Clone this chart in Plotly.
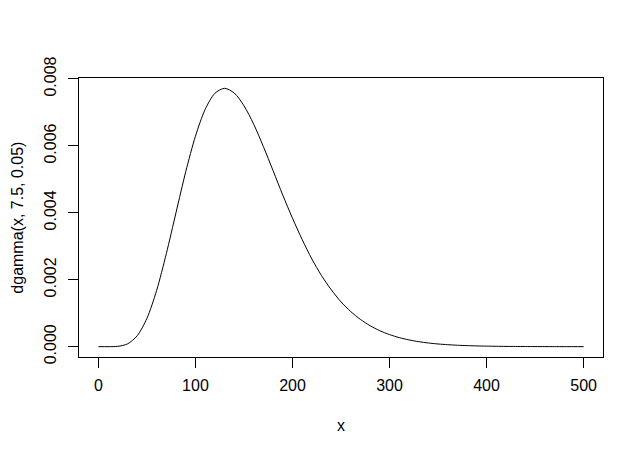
import plotly.graph_objects as go

# values
x_vals = [0, 10, 20, 30, 40, 50, 60, 70, 80, 90, 100, 110, 120, 130, 140, 150,
          160, 170, 180, 190, 200, 210, 220, 230, 240, 250, 260, 270, 280, 290,
          300, 310, 320, 330, 340, 350, 360, 370, 380, 390, 400, 410, 420, 430,
          440, 450, 460, 470, 480, 490, 500]
density = [0.0, 1.8e-7, 9.8e-6, 8.3e-5, 3.27e-4, 8.47e-4, 1.68e-3, 2.78e-3,
           4.01e-3, 5.23e-3, 6.29e-3, 7.09e-3, 7.57e-3, 7.72e-3, 7.58e-3,
           7.20e-3, 6.65e-3, 5.98e-3, 5.26e-3, 4.53e-3, 3.84e-3, 3.20e-3,
           2.62e-3, 2.12e-3, 1.70e-3, 1.34e-3, 1.05e-3, 8.15e-4, 6.26e-4,
           4.77e-4, 3.61e-4, 2.71e-4, 2.02e-4, 1.50e-4, 1.10e-4, 8.06e-5,
           5.87e-5, 4.26e-5, 3.07e-5, 2.2e-5, 1.58e-5, 1.12e-5, 7.95e-6,
           5.6e-6, 3.97e-6, 2.8e-6, 1.95e-6, 1.35e-6, 9.4e-7, 6.5e-7, 4.5e-7]

x_ticks = [0, 100, 200, 300, 400, 500]
y_ticks = [0.000, 0.002, 0.004, 0.006, 0.008]
y_tick_labels = ["0.000", "0.002", "0.004", "0.006", "0.008"]
x_label = "x"
y_label = "dgamma(x, 7.5, 0.05)"

font = dict(family="Liberation Sans, Arial, sans-serif", size=16, color="black")

fig = go.Figure()
fig.add_trace(go.Scatter(x=x_vals, y=density, mode="lines",
                         line=dict(color="black", width=1, shape="spline", smoothing=0.8),
                         hoverinfo="skip", showlegend=False))

ymax = max(density)
pad_y = 0.04 * ymax
fig.update_layout(
    width=643, height=455, autosize=False,
    margin=dict(l=79, r=40, t=78, b=98),
    paper_bgcolor="white", plot_bgcolor="white",
    font=font,
    xaxis=dict(range=[-20, 520], tickvals=x_ticks, ticks="outside", ticklen=10,
               tickcolor="black", tickwidth=1, showgrid=False, zeroline=False,
               showline=True, linecolor="black", linewidth=1, mirror=True,
               tickfont=font, ticklabelstandoff=4),
    yaxis=dict(range=[-pad_y, ymax + pad_y], tickvals=y_ticks, ticktext=y_tick_labels,
               ticks="outside", ticklen=10, tickcolor="black", tickwidth=1,
               showgrid=False, zeroline=False, showline=True, linecolor="black",
               linewidth=1, mirror=True, tickangle=-90, tickfont=font,
               ticklabelstandoff=6),
    annotations=[
        dict(text=x_label, xref="paper", yref="paper", x=0.5, y=-0.247,
             xanchor="center", yanchor="middle", showarrow=False, font=font),
        dict(text=y_label, xref="paper", yref="paper", x=-0.118, y=0.5,
             xanchor="center", yanchor="middle", textangle=-90, showarrow=False,
             font=font),
    ],
)

# remove the default 8px page margin so the figure sits at the window's corner
fig.write_html("out.html",
               config={"displayModeBar": False, "staticPlot": True},
               post_script="document.body.style.margin='0';document.body.style.overflow='hidden';")
